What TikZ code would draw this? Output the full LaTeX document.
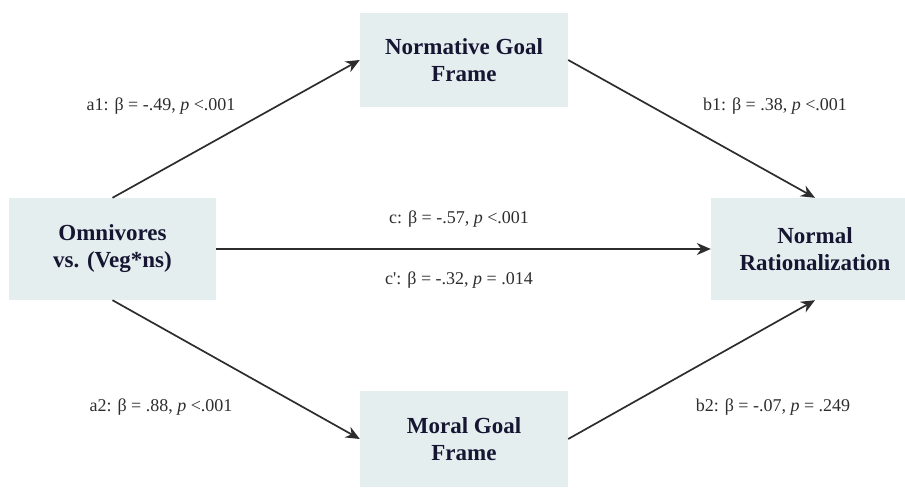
\documentclass[tikz,border=0pt]{standalone}
\usepackage{fontspec}
\setmainfont{Liberation Serif}
\usetikzlibrary{arrows.meta,positioning}
\definecolor{boxfill}{RGB}{229,238,239}
\definecolor{boxtext}{RGB}{22,22,50}
\definecolor{pathgray}{RGB}{45,45,45}

\tikzset{
  varbox/.style={fill=boxfill, minimum width=207pt, minimum height=96pt, align=center,
    text=boxtext, font=\fontsize{23}{27}\selectfont\bfseries},
  pathlabel/.style={text=pathgray, font=\fontsize{18}{20}\selectfont},
  patharrow/.style={-{Stealth[length=14pt,width=12pt]}, line width=1.7pt, pathgray}
}

\begin{document}
\begin{tikzpicture}[x=1pt,y=-1pt]
    \useasboundingbox (0,0) rectangle (905,489);

    % Variables
    \node[varbox, minimum height=102pt] (omni) at (112.5,249) {Omnivores\\vs. (Veg*ns)};
    \node[varbox, minimum width=208pt, minimum height=94pt] (normative) at (464,60) {Normative Goal\\Frame};
    \node[varbox, minimum width=208pt] (moral) at (464,439) {Moral Goal\\Frame};
    \node[varbox, minimum width=208pt, minimum height=102pt] (rational) at (815,249) {Normal\\Rationalization};

    % Paths
    \draw[patharrow] (omni.north) -- (normative.west);
    \draw[patharrow] (omni.south) -- (moral.west);
    \draw[patharrow] (normative.east) -- (rational.north);
    \draw[patharrow] (moral.east) -- (rational.south);
    \draw[patharrow] (omni.east) -- (rational.west);

    % Coefficients
    \node[pathlabel] (a1) at (161,106) {a1: β = -.49, \textit{p} <.001};
    \node[pathlabel] (a2) at (161,407) {a2: β = .88, \textit{p} <.001};
    \node[pathlabel] (b1) at (775,106) {b1: β = .38, \textit{p} <.001};
    \node[pathlabel] (b2) at (773,407) {b2: β = -.07, \textit{p} = .249};
    \node[pathlabel] (c) at (459,219) {c: β = -.57, \textit{p} <.001};
    \node[pathlabel] (cprime) at (459,280) {c\textquotesingle: β = -.32, \textit{p} = .014};
\end{tikzpicture}
\end{document}
